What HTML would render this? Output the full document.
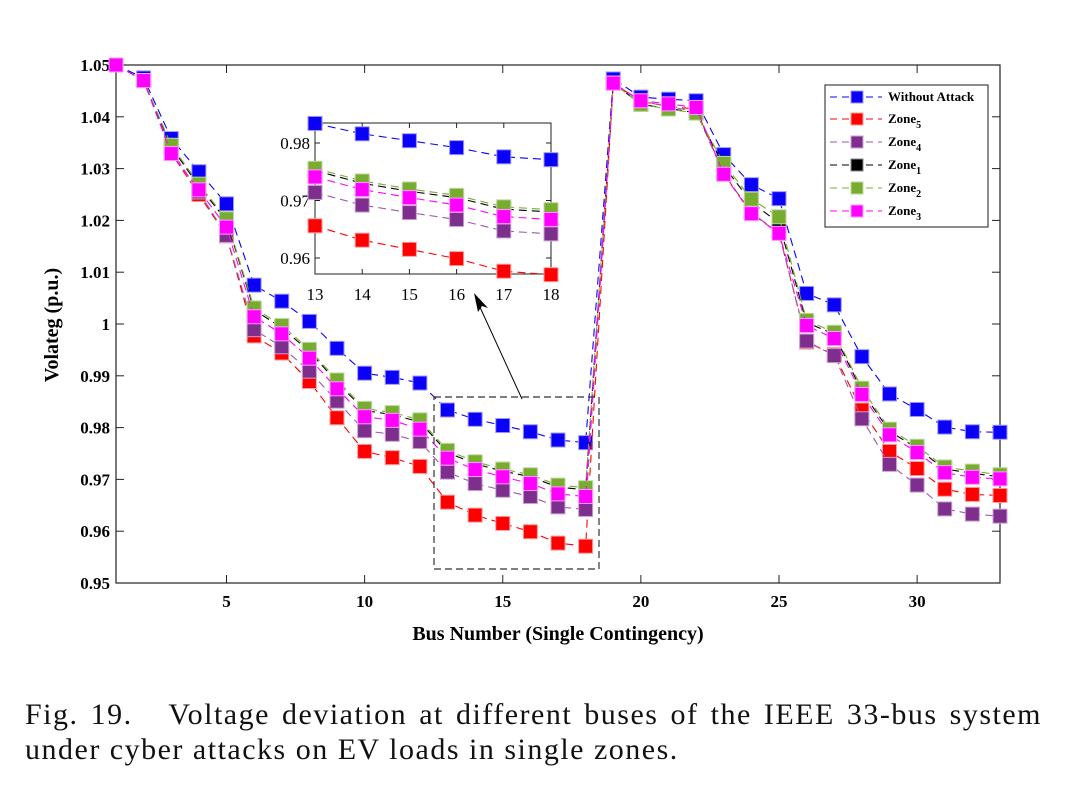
<!DOCTYPE html>
<html><head><meta charset="utf-8"><style>
body{margin:0;background:#fff;width:1068px;height:812px;overflow:hidden}
svg text{font-family:"Liberation Serif",serif}
.cap{position:absolute;left:25px;width:1017px;font-family:"Liberation Serif",serif;font-size:30px;letter-spacing:1.5px;line-height:36px;color:#111;white-space:nowrap}
#cap1{top:697px;text-align:justify;text-align-last:justify;white-space:normal}
#cap2{top:732px}
</style></head><body>
<svg id="chart" width="1068" height="690" style="position:absolute;left:0;top:0"></svg>
<div id="cap1" class="cap">Fig. 19. &nbsp; Voltage deviation at different buses of the IEEE 33-bus system</div>
<div id="cap2" class="cap">under cyber attacks on EV loads in single zones.</div>
<script>
const buses=[...Array(33)].map((_,i)=>i+1);
const seriesNames=["Without Attack","Zone5","Zone4","Zone1","Zone2","Zone3"];
const withoutAttack=[1.05,1.0475,1.0358,1.0294,1.0232,1.0075,1.0044,1.0005,0.9953,0.9905,0.9897,0.9886,0.9834,0.9816,0.9804,0.9792,0.9776,0.9771,1.0473,1.0438,1.0434,1.0431,1.0327,1.0269,1.0242,1.0059,1.0037,0.9937,0.9865,0.9835,0.9801,0.9792,0.9791];
const zone5=[1.05,1.047,1.033,1.025,1.017,0.9977,0.9944,0.9889,0.9819,0.9754,0.9742,0.9725,0.9656,0.9631,0.9615,0.9599,0.9577,0.9571,1.0465,1.043,1.042,1.0415,1.029,1.0215,1.0175,0.9965,0.9941,0.9834,0.9754,0.9721,0.9681,0.9671,0.9669];
const zone4=[1.05,1.047,1.0335,1.0255,1.0171,0.9989,0.9956,0.9909,0.9851,0.9794,0.9787,0.9773,0.9714,0.9692,0.9679,0.9667,0.9647,0.9642,1.0465,1.043,1.042,1.041,1.029,1.0215,1.0175,0.9967,0.9939,0.9817,0.9729,0.9689,0.9643,0.9633,0.9629];
const zone1=[1.05,1.047,1.0342,1.0266,1.02,1.0027,0.9993,0.9947,0.9888,0.9833,0.9825,0.9811,0.9752,0.973,0.9716,0.9705,0.9685,0.968,1.0465,1.0424,1.0416,1.0408,1.0305,1.0235,1.0195,1.0003,0.998,0.987,0.9793,0.976,0.972,0.9712,0.9705];
const zone2=[1.05,1.047,1.0345,1.027,1.0203,1.0031,0.9997,0.9951,0.9892,0.9837,0.9829,0.9815,0.9756,0.9734,0.972,0.9709,0.9689,0.9684,1.0465,1.0424,1.0415,1.0407,1.031,1.0241,1.0207,1.0007,0.9984,0.9876,0.9797,0.9764,0.9724,0.9716,0.9709];
const zone3=[1.05,1.047,1.0329,1.0259,1.0187,1.0014,0.9981,0.9934,0.9875,0.9821,0.9814,0.9797,0.9741,0.9719,0.9705,0.9692,0.9672,0.9667,1.0465,1.0431,1.0425,1.0418,1.0289,1.0213,1.0175,0.9997,0.9972,0.9864,0.9786,0.9752,0.9713,0.9704,0.9701];
const xTicks=[5,10,15,20,25,30];
const yTicks=[0.95,0.96,0.97,0.98,0.99,1,1.01,1.02,1.03,1.04,1.05];
const yTickLabels=["0.95","0.96","0.97","0.98","0.99","1","1.01","1.02","1.03","1.04","1.05"];
const insetX=[13,14,15,16,17,18];
const insetYTicks=[0.96,0.97,0.98];

const S="http://www.w3.org/2000/svg",svg=document.getElementById('chart');
function mk(tag,at,parent){const e=document.createElementNS(S,tag);for(const k in at)e.setAttribute(k,at[k]);(parent||svg).appendChild(e);return e;}
const L=116,R=1000,T=65,B=583;
const x=b=>L+(b-1)*(R-L)/32;
const y=v=>T+(1.05-v)*(B-T)/0.1;
const styles=[
 {data:withoutAttack,fill:"#0a00f8",stroke:"#0a00f8",edge:"#9a95ff",label:"Without Attack"},
 {data:zone5,fill:"#ff0000",stroke:"#ff0000",edge:"#ff9a9a",label:"Zone",sub:"5"},
 {data:zone4,fill:"#7e2f8e",stroke:"#9a5aa8",edge:"#c8a0d0",label:"Zone",sub:"4"},
 {data:zone1,fill:"#000000",stroke:"#000000",edge:"#888",label:"Zone",sub:"1"},
 {data:zone2,fill:"#77ac30",stroke:"#77ac30",edge:"#bcd89a",label:"Zone",sub:"2"},
 {data:zone3,fill:"#ff00ff",stroke:"#ff00ff",edge:"#ff9aff",label:"Zone",sub:"3"}];

const ax=mk('rect',{x:L,y:T,width:R-L,height:B-T,fill:'none',stroke:'#222','stroke-width':1.2});

xTicks.forEach(t=>{
 mk('line',{x1:x(t),x2:x(t),y1:B,y2:B-8,stroke:'#222'});mk('line',{x1:x(t),x2:x(t),y1:T,y2:T+8,stroke:'#222'});
 const tx=mk('text',{x:x(t),y:B+24,'text-anchor':'middle','font-size':17,'font-weight':'bold'});tx.textContent=t;
 
});
yTicks.forEach((t,i)=>{
 mk('line',{x1:L,x2:L+8,y1:y(t),y2:y(t),stroke:'#222'});mk('line',{x1:R,x2:R-8,y1:y(t),y2:y(t),stroke:'#222'});
 const tx=mk('text',{x:L-6,y:y(t)+6,'text-anchor':'end','font-size':17,'font-weight':'bold'});tx.textContent=yTickLabels[i];
 
});
const xt=mk('text',{x:558,y:640,'text-anchor':'middle','font-size':20,'font-weight':'bold'});xt.textContent="Bus Number (Single Contingency)";

const yt=mk('text',{x:0,y:0,transform:'translate(58,325) rotate(-90)','text-anchor':'middle','font-size':20,'font-weight':'bold'});yt.textContent="Volateg (p.u.)";


function drawSeries(st,xf,yf,idx,sz,parent){
 const g=mk('g',{},parent);
 
 
 mk('polyline',{points:idx.map(i=>xf(buses[i])+','+yf(st.data[i])).join(' '),fill:'none',stroke:st.stroke,'stroke-width':1.1,'stroke-dasharray':'8,5'},g);
 idx.forEach(i=>{const r=mk('rect',{x:xf(buses[i])-sz/2,y:yf(st.data[i])-sz/2,width:sz,height:sz,fill:st.fill,stroke:st.edge,'stroke-width':1},g);
  });
}
const all=buses.map((_,i)=>i);
styles.forEach(st=>drawSeries(st,x,y,all,14,svg));

const zr=mk('rect',{x:434,y:397,width:165,height:172,fill:'none',stroke:'#333','stroke-width':1.2,'stroke-dasharray':'7,4'});

const ar=mk('line',{x1:522,y1:399,x2:479,y2:305,stroke:'#000','stroke-width':1});

mk('polygon',{points:'474,293 488,308 482,306 478,312',fill:'#000'});

const IL=315,IR=551,IT=123,IB=274;
const ix=b=>IL+(b-13)*(IR-IL)/5;
const iy=v=>143+(0.98-v)*5750;
const ins=mk('g',{});
mk('rect',{x:IL,y:IT,width:IR-IL,height:IB-IT,fill:'#fff',stroke:'#222','stroke-width':1},ins);
insetX.forEach(t=>{mk('line',{x1:ix(t),x2:ix(t),y1:IB,y2:IB-5,stroke:'#222'},ins);mk('line',{x1:ix(t),x2:ix(t),y1:IT,y2:IT+5,stroke:'#222'},ins);
 const tx=mk('text',{x:ix(t),y:IB+26,'text-anchor':'middle','font-size':17},ins);tx.textContent=t;
 });
insetYTicks.forEach(t=>{mk('line',{x1:IL,x2:IL+5,y1:iy(t),y2:iy(t),stroke:'#222'},ins);mk('line',{x1:IR,x2:IR-5,y1:iy(t),y2:iy(t),stroke:'#222'},ins);
 const tx=mk('text',{x:IL-5,y:iy(t)+6,'text-anchor':'end','font-size':17},ins);tx.textContent=t.toFixed(2);
 });
const iidx=[12,13,14,15,16,17];
styles.forEach(st=>drawSeries(st,ix,iy,iidx,14,ins));

const lg=mk('g',{});
mk('rect',{x:825,y:85,width:163,height:142,fill:'#fff',stroke:'#444','stroke-width':1.2},lg);
const ly=[97,119,142,165,188,211];
styles.forEach((st,i)=>{
 const e=mk('g',{},lg);
 mk('line',{x1:830,x2:882,y1:ly[i],y2:ly[i],stroke:st.stroke,'stroke-dasharray':'7,5','stroke-width':1.1},e);
 mk('rect',{x:851,y:ly[i]-6,width:12,height:12,fill:st.fill,stroke:st.edge},e);
 const t=mk('text',{x:888,y:ly[i]+4,'font-size':13,'font-weight':'bold'},e);t.textContent=st.label;
 if(st.sub){const s=mk('tspan',{dy:5,'font-size':10},t);s.textContent=st.sub;}
});
</script>
</body></html>
